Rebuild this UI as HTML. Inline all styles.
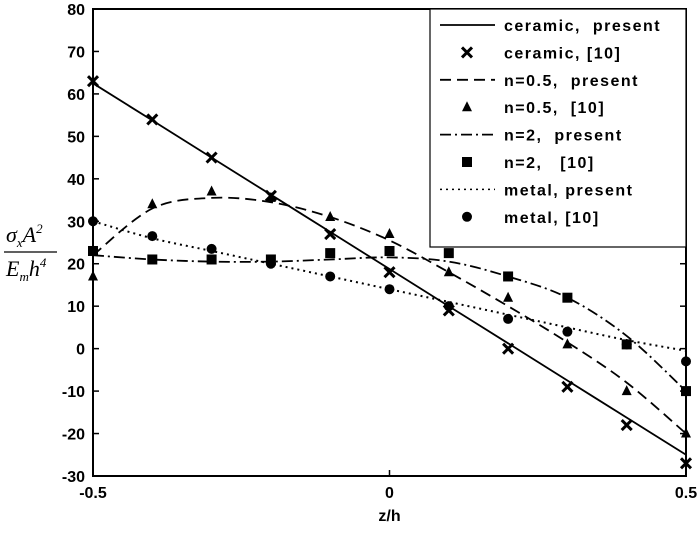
<!DOCTYPE html>
<html><head><meta charset="utf-8"><style>
body{margin:0;background:#fff}
svg text{font-family:"Liberation Sans",Arial,sans-serif;font-weight:bold}
</style></head><body>
<svg id="c" width="700" height="528" xmlns="http://www.w3.org/2000/svg"></svg>
<script>
const zs=[-0.5,-0.4,-0.3,-0.2,-0.1,0,0.1,0.2,0.3,0.4,0.5];
const ceramicRef=[63,54,45,36,27,18,9,0,-9,-18,-27];
const ceramicLine=[62.5,53.75,45,36.25,27.5,18.75,10,1.25,-7.5,-16.25,-25];
const n05Ref=[17,34,37,35.5,31,27,18,12,1,-10,-20];
const n05Line=[22,33,35.5,34.5,31,25.5,18,10,1.5,-8,-20];
const n2Ref=[23,21,21,21,22.5,23,22.5,17,12,1,-10];
const n2Line=[22,21,20.5,20.5,21,21.5,20.5,17,12,3,-10];
const metalRef=[30,26.5,23.5,20,17,14,10,7,4,1,-3];
const metalLine=[30,26,23,20,17,14,11,8,5,2,-0.5];
const yTicks=[-30,-20,-10,0,10,20,30,40,50,60,70,80];
const xTicks=[-0.5,0,0.5];
const L=93,R=686,T=9,B=476;
const X=v=>L+(v+0.5)*(R-L);
const Y=v=>B-(v+30)/110*(B-T);
const svg=document.getElementById('c');
const NS='http://www.w3.org/2000/svg';
function mk(tag,attrs,parent){const e=document.createElementNS(NS,tag);for(const k in attrs)e.setAttribute(k,attrs[k]);(parent||svg).appendChild(e);return e;}
let e=mk('rect',{x:L,y:T,width:R-L,height:B-T,fill:'none',stroke:'#000','stroke-width':2});


yTicks.forEach(v=>{
 let t=mk('line',{x1:L,x2:L+6,y1:Y(v),y2:Y(v),stroke:'#000','stroke-width':1.5});
 
 
 let t2=mk('line',{x1:R-6,x2:R,y1:Y(v),y2:Y(v),stroke:'#000','stroke-width':1.5});
 
 
 let tx=mk('text',{x:L-8,y:Y(v)+6,'text-anchor':'end','font-size':16});
 tx.textContent=v;
 
 
});
xTicks.forEach(v=>{
 let t=mk('line',{x1:X(v),x2:X(v),y1:B,y2:B-6,stroke:'#000','stroke-width':1.5});
 
 
 let tx=mk('text',{x:X(v),y:B+22,'text-anchor':'middle','font-size':16});
 tx.textContent=v;
 
 
});
let xl=mk('text',{x:(L+R)/2,y:521,'text-anchor':'middle','font-size':16});
xl.textContent='z/h';


const g=mk('g',{});


g.innerHTML='<text x="6" y="242" style="font-family:\'Liberation Serif\',serif;font-style:italic;font-weight:normal;font-size:22px">σ<tspan font-size="13" dy="5">x</tspan><tspan dy="-5">A</tspan><tspan font-size="13" dy="-9">2</tspan></text><line x1="4" x2="57" y1="252" y2="252" stroke="#000" stroke-width="1.2"/><text x="6" y="276" style="font-family:\'Liberation Serif\',serif;font-style:italic;font-weight:normal;font-size:22px">E<tspan font-size="13" dy="5">m</tspan><tspan dy="-5">h</tspan><tspan font-size="13" dy="-9">4</tspan></text>';
const styles={solid:'',dash:'11,6',dashdot:'11,4,2,4',dot:'2,4'};
function smooth(pts){
 let d='M'+pts[0][0].toFixed(1)+','+pts[0][1].toFixed(1);
 for(let i=0;i<pts.length-1;i++){
  const p0=pts[Math.max(i-1,0)],p1=pts[i],p2=pts[i+1],p3=pts[Math.min(i+2,pts.length-1)];
  const c1=[p1[0]+(p2[0]-p0[0])/6,p1[1]+(p2[1]-p0[1])/6];
  const c2=[p2[0]-(p3[0]-p1[0])/6,p2[1]-(p3[1]-p1[1])/6];
  d+=`C${c1[0].toFixed(1)},${c1[1].toFixed(1)} ${c2[0].toFixed(1)},${c2[1].toFixed(1)} ${p2[0].toFixed(1)},${p2[1].toFixed(1)}`;
 }
 return d;
}
function line(vals,st,name){
 const pts=vals.map((v,i)=>[X(zs[i]),Y(v)]);
 const p=mk('path',{d:smooth(pts),fill:'none',stroke:'#000','stroke-width':st==='dot'?2:1.8,'stroke-dasharray':styles[st]});
 
 
}
function marker(x,y,type,parent){
 let m;
 if(type==='x'){m=mk('path',{d:`M${x-5},${y-5}L${x+5},${y+5}M${x-5},${y+5}L${x+5},${y-5}`,stroke:'#000','stroke-width':3},parent);}
 else if(type==='tri'){m=mk('path',{d:`M${x},${y-6}L${x+5},${y+4}L${x-5},${y+4}Z`,fill:'#000'},parent);}
 else if(type==='sq'){m=mk('rect',{x:x-5,y:y-5,width:10,height:10,fill:'#000'},parent);}
 else {m=mk('circle',{cx:x,cy:y,r:5,fill:'#000'},parent);}
 return m;
}
function points(vals,type,name){
 vals.forEach((v,i)=>{const m=marker(X(zs[i]),Y(v),type);
 
 });
}
line(ceramicLine,'solid','ceramic-present-line');
line(n05Line,'dash','n05-present-line');
line(n2Line,'dashdot','n2-present-line');
line(metalLine,'dot','metal-present-line');
points(ceramicRef,'x','ceramic-ref-point');
points(n05Ref,'tri','n05-ref-point');
points(n2Ref,'sq','n2-ref-point');
points(metalRef,'circ','metal-ref-point');
const lg=mk('g',{});


mk('rect',{x:430,y:T,width:R-430,height:238,fill:'#fff',stroke:'#000','stroke-width':1.2},lg);
const labels=['ceramic,  present','ceramic, [10]','n=0.5,  present','n=0.5,  [10]','n=2,  present','n=2,   [10]','metal, present','metal, [10]'];
const kinds=['solid','x','dash','tri','dashdot','sq','dot','circ'];
labels.forEach((lab,i)=>{
 const y=25+i*27.4;
 const k=kinds[i];
 if(styles[k]!==undefined){
  const l=mk('line',{x1:440,x2:495,y1:y,y2:y,stroke:'#000','stroke-width':k==='dot'?1.5:1.8,'stroke-dasharray':styles[k]},lg);
  
  
 } else {
  const m=marker(467,y,k,lg);
  
  
 }
 const t=mk('text',{x:504,y:y+6,'font-size':16,'letter-spacing':1.5,'xml:space':'preserve',style:'white-space:pre'},lg);
 t.textContent=lab;
 
 
});
</script>
</body></html>
